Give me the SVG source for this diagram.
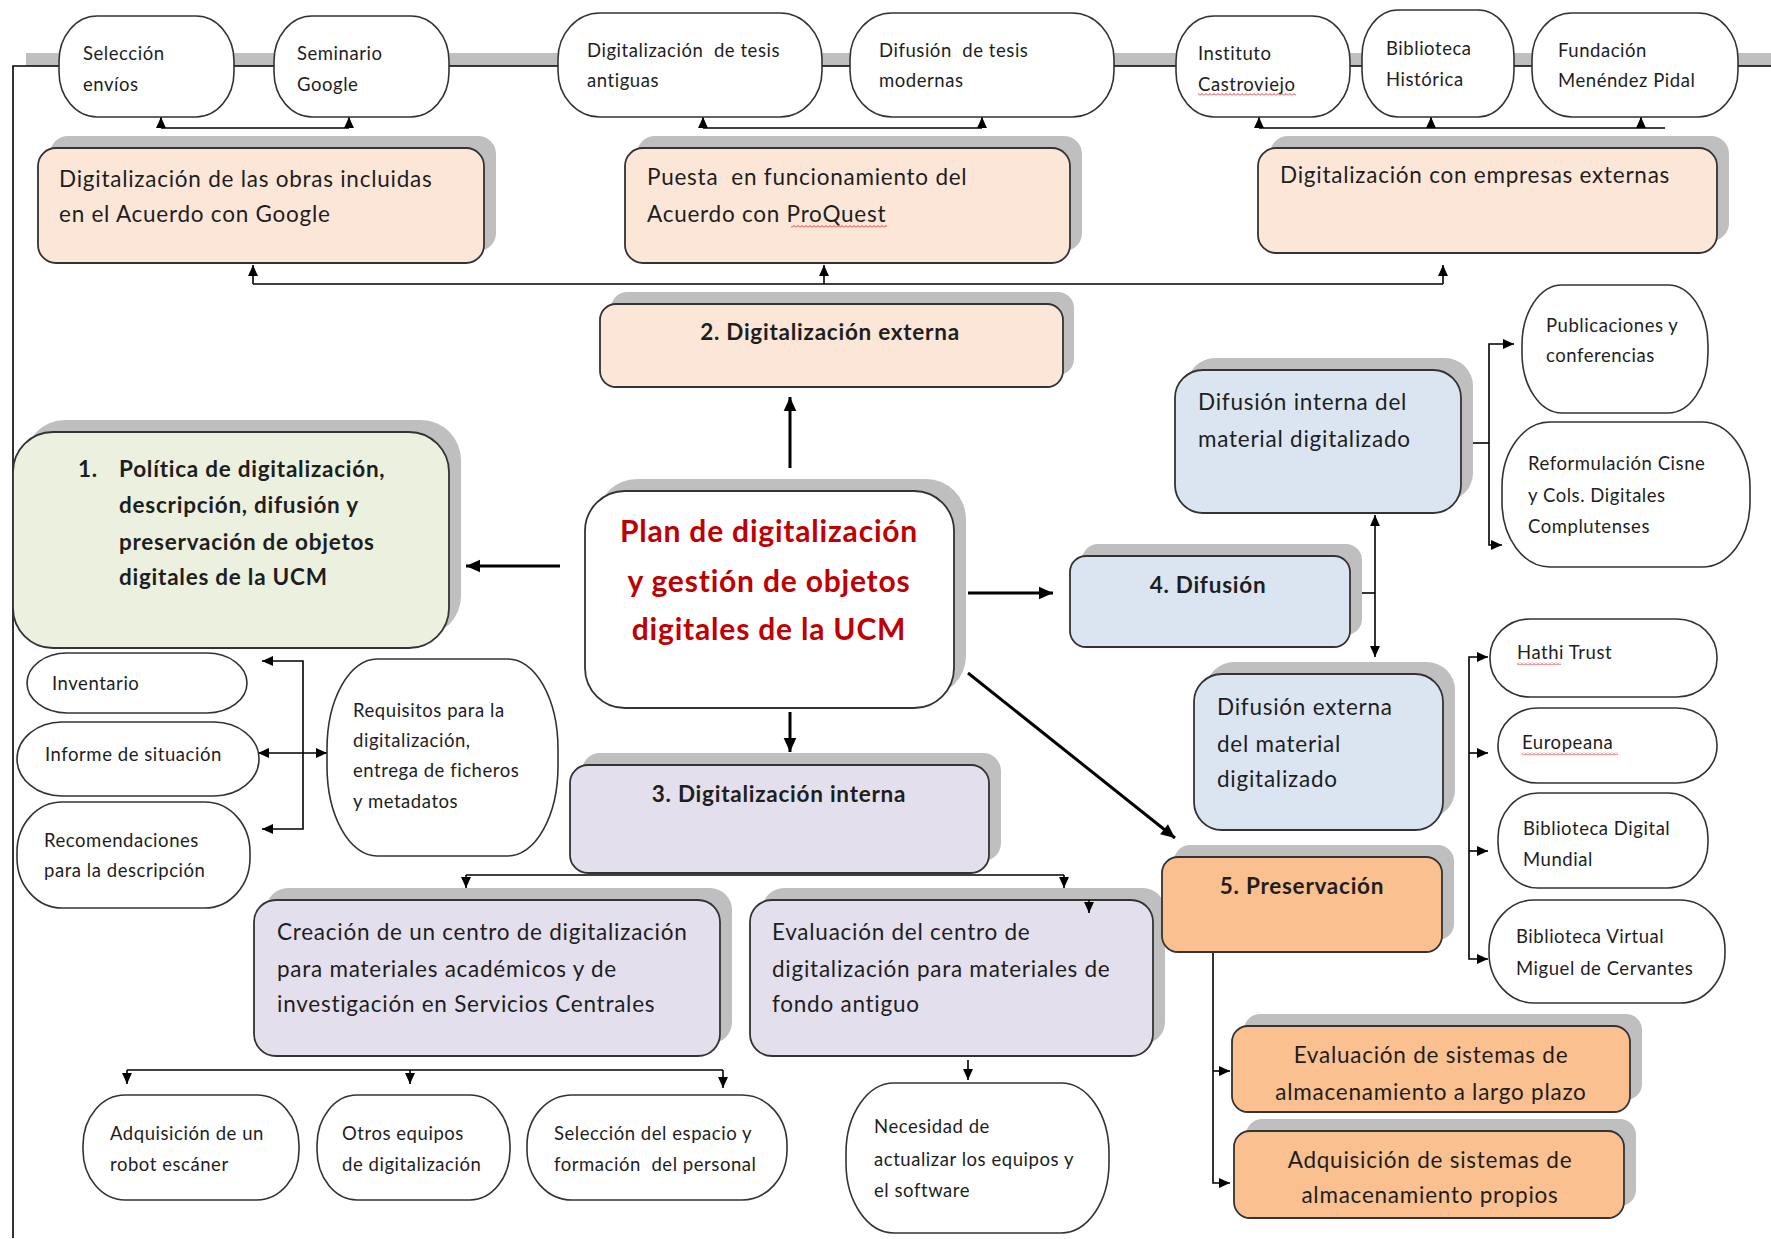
<svg xmlns="http://www.w3.org/2000/svg" width="1771" height="1239" viewBox="0 0 1771 1239">
<style>
.bg{fill:#ffffff}
.pill{fill:#ffffff;stroke:#333333;stroke-width:1.6}
.sh{fill:#BFBFBF}
.box{stroke:#333333;stroke-width:1.8}
.peach{fill:#FCE6D8}
.green{fill:#EBF1DE}
.lav{fill:#E4DFEC}
.blue{fill:#DBE5F1}
.orange{fill:#FAC090}
.t{font-family:Lato,"Open Sans",sans-serif;fill:#1e1e1e}
.s{font-size:18.5px;letter-spacing:0.55px}
.m{font-size:22.5px;letter-spacing:0.75px}
.b{font-weight:bold}
.red{fill:#C00000;font-size:30px;font-weight:bold;letter-spacing:0.8px}
.c{stroke:#000;stroke-width:1.6;fill:none}
.cw{stroke:#000;stroke-width:3;fill:none}
</style>
<defs>
<marker id="a" viewBox="0 0 10 10" refX="10" refY="5" markerWidth="11" markerHeight="11" markerUnits="userSpaceOnUse" orient="auto-start-reverse"><path d="M0,0.5 L10,5 L0,9.5 z" fill="#000"/></marker>
<marker id="A" viewBox="0 0 10 10" refX="10" refY="5" markerWidth="15" markerHeight="14" markerUnits="userSpaceOnUse" orient="auto-start-reverse"><path d="M0,0.5 L10,5 L0,9.5 z" fill="#000"/></marker>
<pattern id="wave" x="0" y="0" width="4" height="3" patternUnits="userSpaceOnUse"><path d="M0,2.5 L2,0.5 L4,2.5" stroke="#E02020" fill="none" stroke-width="0.9"/></pattern>
<clipPath id="clipEval"><rect x="1232" y="1026" width="398" height="86" rx="16"/></clipPath>
</defs>
<rect class="bg" x="0" y="0" width="1771" height="1239"/>

<g id="connectors">
  <rect class="sh" x="26" y="53" width="1745" height="13"/>
  <path class="c" d="M13,1238 V66 H1771"/>
  <path class="c" d="M161,128 H349"/>
  <path class="c" d="M161,128 V117" marker-end="url(#a)"/>
  <path class="c" d="M349,128 V117" marker-end="url(#a)"/>
  <path class="c" d="M703,128 H982"/>
  <path class="c" d="M703,128 V117" marker-end="url(#a)"/>
  <path class="c" d="M982,128 V117" marker-end="url(#a)"/>
  <path class="c" d="M1259,128 H1665"/>
  <path class="c" d="M1259,128 V117" marker-end="url(#a)"/>
  <path class="c" d="M1431,128 V117" marker-end="url(#a)"/>
  <path class="c" d="M1641,128 V117" marker-end="url(#a)"/>
  <path class="c" d="M253,284 H1443"/>
  <path class="c" d="M253,284 V265" marker-end="url(#a)"/>
  <path class="c" d="M824,284 V265" marker-end="url(#a)"/>
  <path class="c" d="M1443,284 V265" marker-end="url(#a)"/>
  <path class="cw" d="M790,468 V397" marker-end="url(#A)"/>
  <path class="cw" d="M560,566 H466" marker-end="url(#A)"/>
  <path class="cw" d="M968,593 H1053" marker-end="url(#A)"/>
  <path class="cw" d="M790,712 V752" marker-end="url(#A)"/>
  <path class="cw" d="M968,673 L1175,838" marker-end="url(#A)"/>
  <path class="c" d="M1362,593 H1375"/>
  <path class="c" d="M1375,515 V657" marker-start="url(#a)" marker-end="url(#a)"/>
  <path class="c" d="M1471,443 H1489"/>
  <path class="c" d="M1514,344 H1489 V545 H1502" marker-start="url(#a)" marker-end="url(#a)"/>
  <path class="c" d="M1488,657 H1469 V959 H1488" marker-start="url(#a)" marker-end="url(#a)"/>
  <path class="c" d="M1469,753 H1488" marker-end="url(#a)"/>
  <path class="c" d="M1469,851 H1488" marker-end="url(#a)"/>
  <path class="c" d="M262,661 H303 V829 H262" marker-start="url(#a)" marker-end="url(#a)"/>
  <path class="c" d="M258,753 H327" marker-start="url(#a)" marker-end="url(#a)"/>
  <path class="c" d="M466,875 H1064"/>
  <path class="c" d="M466,875 V888" marker-end="url(#a)"/>
  <path class="c" d="M1064,875 V888" marker-end="url(#a)"/>
  <path class="c" d="M127,1070 H723"/>
  <path class="c" d="M127,1070 V1084" marker-end="url(#a)"/>
  <path class="c" d="M410,1070 V1084" marker-end="url(#a)"/>
  <path class="c" d="M723,1070 V1088" marker-end="url(#a)"/>
  <path class="c" d="M968,1060 V1080" marker-end="url(#a)"/>
  <path class="c" d="M1213,952 V1183 H1230" marker-end="url(#a)"/>
  <path class="c" d="M1213,1071 H1230" marker-end="url(#a)"/>
</g>

<g id="n-seleccion"><rect class="pill" x="59" y="16" width="175" height="101" rx="38" ry="45"/><text class="t s" x="83" y="60">Selección</text><text class="t s" x="83" y="91">envíos</text></g>
<g id="n-seminario"><rect class="pill" x="274" y="16" width="175" height="101" rx="38" ry="45"/><text class="t s" x="297" y="60">Seminario</text><text class="t s" x="297" y="91">Google</text></g>
<g id="n-tesis-antiguas"><rect class="pill" x="558" y="13" width="264" height="104" rx="42" ry="46"/><text class="t s" x="587" y="57" xml:space="preserve">Digitalización  de tesis</text><text class="t s" x="587" y="87">antiguas</text></g>
<g id="n-tesis-modernas"><rect class="pill" x="850" y="13" width="264" height="104" rx="42" ry="46"/><text class="t s" x="879" y="57" xml:space="preserve">Difusión  de tesis</text><text class="t s" x="879" y="87">modernas</text></g>
<g id="n-castroviejo"><rect class="pill" x="1176" y="16" width="174" height="101" rx="38" ry="45"/><text class="t s" x="1198" y="60">Instituto</text><text class="t s" x="1198" y="91">Castroviejo</text><rect x="1198" y="93" width="98" height="3" fill="url(#wave)"/></g>
<g id="n-historica"><rect class="pill" x="1362" y="10" width="152" height="107" rx="36" ry="46"/><text class="t s" x="1386" y="55">Biblioteca</text><text class="t s" x="1386" y="86">Histórica</text></g>
<g id="n-pidal"><rect class="pill" x="1532" y="13" width="206" height="104" rx="40" ry="46"/><text class="t s" x="1558" y="57">Fundación</text><text class="t s" x="1558" y="87">Menéndez Pidal</text></g>

<g id="n-google"><rect class="sh" x="50" y="136" width="446" height="115" rx="18"/><rect class="box peach" x="38" y="148" width="446" height="115" rx="18"/><text class="t m" x="59" y="187">Digitalización de las obras incluidas</text><text class="t m" x="59" y="222">en el Acuerdo con Google</text></g>
<g id="n-proquest"><rect class="sh" x="637" y="136" width="445" height="115" rx="18"/><rect class="box peach" x="625" y="148" width="445" height="115" rx="18"/><text class="t m" x="647" y="185" xml:space="preserve">Puesta  en funcionamiento del</text><text class="t m" x="647" y="222">Acuerdo con <tspan id="pq">ProQuest</tspan></text><rect x="791" y="225" width="96" height="3" fill="url(#wave)"/></g>
<g id="n-empresas"><rect class="sh" x="1270" y="136" width="459" height="105" rx="18"/><rect class="box peach" x="1258" y="148" width="459" height="105" rx="18"/><text class="t m" x="1280" y="183">Digitalización con empresas externas</text></g>

<g id="n-externa"><rect class="sh" x="611" y="292" width="463" height="83" rx="16"/><rect class="box peach" x="600" y="304" width="463" height="83" rx="16"/><text class="t m b" x="830" y="340" text-anchor="middle">2. Digitalización externa</text></g>

<g id="n-politica"><rect class="sh" x="25" y="420" width="436" height="216" rx="40"/><rect class="box green" x="13" y="432" width="436" height="216" rx="40"/><text class="t m b" x="78" y="477">1.</text><text class="t m b" x="119" y="477">Política de digitalización,</text><text class="t m b" x="119" y="513">descripción, difusión y</text><text class="t m b" x="119" y="550">preservación de objetos</text><text class="t m b" x="119" y="585">digitales de la UCM</text></g>

<g id="n-plan"><rect class="sh" x="597" y="479" width="369" height="217" rx="40"/><rect class="box" fill="#ffffff" x="585" y="491" width="369" height="217" rx="40"/><text class="t red" x="769" y="542" text-anchor="middle">Plan de digitalización</text><text class="t red" x="769" y="592" text-anchor="middle">y gestión de objetos</text><text class="t red" x="769" y="640" text-anchor="middle">digitales de la UCM</text></g>

<g id="n-inventario"><rect class="pill" x="27" y="653" width="220" height="60" rx="40" ry="30"/><text class="t s" x="52" y="690">Inventario</text></g>
<g id="n-informe"><rect class="pill" x="17" y="722" width="242" height="74" rx="45" ry="37"/><text class="t s" x="45" y="761">Informe de situación</text></g>
<g id="n-recomendaciones"><rect class="pill" x="17" y="802" width="233" height="106" rx="45" ry="50"/><text class="t s" x="44" y="847">Recomendaciones</text><text class="t s" x="44" y="877">para la descripción</text></g>
<g id="n-requisitos"><rect class="pill" x="327" y="659" width="231" height="197" rx="50" ry="90"/><text class="t s" x="353" y="717">Requisitos para la</text><text class="t s" x="353" y="747">digitalización,</text><text class="t s" x="353" y="777">entrega de ficheros</text><text class="t s" x="353" y="808">y metadatos</text></g>

<g id="n-interna"><rect class="sh" x="582" y="753" width="419" height="108" rx="18"/><rect class="box lav" x="570" y="765" width="419" height="108" rx="18"/><text class="t m b" x="779" y="802" text-anchor="middle">3. Digitalización interna</text></g>

<g id="n-creacion"><rect class="sh" x="266" y="888" width="466" height="156" rx="22"/><rect class="box lav" x="254" y="900" width="466" height="156" rx="22"/><text class="t m" x="277" y="940">Creación de un centro de digitalización</text><text class="t m" x="277" y="977">para materiales académicos y de</text><text class="t m" x="277" y="1012">investigación en Servicios Centrales</text></g>
<g id="n-evaluacion-centro"><rect class="sh" x="762" y="888" width="403" height="156" rx="22"/><rect class="box lav" x="750" y="900" width="403" height="156" rx="22"/><text class="t m" x="772" y="940">Evaluación del centro de</text><text class="t m" x="772" y="977">digitalización para materiales de</text><text class="t m" x="772" y="1012">fondo antiguo</text><path class="c" d="M1089,900 V913" marker-end="url(#a)"/></g>

<g id="n-robot"><rect class="pill" x="83" y="1095" width="216" height="105" rx="42" ry="50"/><text class="t s" x="110" y="1140">Adquisición de un</text><text class="t s" x="110" y="1171">robot escáner</text></g>
<g id="n-otros"><rect class="pill" x="317" y="1095" width="193" height="105" rx="40" ry="50"/><text class="t s" x="342" y="1140">Otros equipos</text><text class="t s" x="342" y="1171">de digitalización</text></g>
<g id="n-espacio"><rect class="pill" x="527" y="1095" width="260" height="105" rx="45" ry="50"/><text class="t s" x="554" y="1140">Selección del espacio y</text><text class="t s" x="554" y="1171" xml:space="preserve">formación  del personal</text></g>
<g id="n-necesidad"><rect class="pill" x="846" y="1083" width="263" height="150" rx="48" ry="70"/><text class="t s" x="874" y="1133">Necesidad de</text><text class="t s" x="874" y="1166">actualizar los equipos y</text><text class="t s" x="874" y="1197">el software</text></g>

<g id="n-difusion"><rect class="sh" x="1082" y="544" width="280" height="91" rx="16"/><rect class="box blue" x="1070" y="556" width="280" height="91" rx="16"/><text class="t m b" x="1208" y="593" text-anchor="middle">4. Difusión</text></g>
<g id="n-dif-interna"><rect class="sh" x="1187" y="358" width="286" height="143" rx="28"/><rect class="box blue" x="1175" y="370" width="286" height="143" rx="28"/><text class="t m" x="1198" y="410">Difusión interna del</text><text class="t m" x="1198" y="447">material digitalizado</text></g>
<g id="n-dif-externa"><rect class="sh" x="1206" y="662" width="249" height="156" rx="28"/><rect class="box blue" x="1194" y="674" width="249" height="156" rx="28"/><text class="t m" x="1217" y="715">Difusión externa</text><text class="t m" x="1217" y="752">del material</text><text class="t m" x="1217" y="787">digitalizado</text></g>

<g id="n-publicaciones"><rect class="pill" x="1522" y="285" width="186" height="128" rx="40" ry="60"/><text class="t s" x="1546" y="332">Publicaciones y</text><text class="t s" x="1546" y="362">conferencias</text></g>
<g id="n-cisne"><rect class="pill" x="1502" y="422" width="248" height="145" rx="48" ry="65"/><text class="t s" x="1528" y="470">Reformulación Cisne</text><text class="t s" x="1528" y="502">y Cols. Digitales</text><text class="t s" x="1528" y="533">Complutenses</text></g>
<g id="n-hathi"><rect class="pill" x="1490" y="619" width="227" height="78" rx="40" ry="38"/><text class="t s" x="1517" y="659">Hathi Trust</text><rect x="1517" y="662" width="44" height="3" fill="url(#wave)"/></g>
<g id="n-europeana"><rect class="pill" x="1498" y="708" width="219" height="75" rx="40" ry="37"/><text class="t s" x="1522" y="749">Europeana</text><rect x="1522" y="752" width="96" height="3" fill="url(#wave)"/></g>
<g id="n-bdm"><rect class="pill" x="1498" y="793" width="210" height="95" rx="40" ry="45"/><text class="t s" x="1523" y="835">Biblioteca Digital</text><text class="t s" x="1523" y="866">Mundial</text></g>
<g id="n-cervantes"><rect class="pill" x="1489" y="900" width="236" height="103" rx="45" ry="50"/><text class="t s" x="1516" y="943">Biblioteca Virtual</text><text class="t s" x="1516" y="975">Miguel de Cervantes</text></g>

<g id="n-preservacion"><rect class="sh" x="1174" y="845" width="280" height="95" rx="16"/><rect class="box orange" x="1162" y="857" width="280" height="95" rx="16"/><text class="t m b" x="1302" y="894" text-anchor="middle">5. Preservación</text></g>
<g id="n-eval-sistemas"><rect class="sh" x="1244" y="1014" width="398" height="86" rx="16"/><rect class="box orange" x="1232" y="1026" width="398" height="86" rx="16"/><g clip-path="url(#clipEval)"><text class="t m" x="1431" y="1063" text-anchor="middle">Evaluación de sistemas de</text><text class="t m" x="1431" y="1100" text-anchor="middle">almacenamiento a largo plazo</text></g></g>
<g id="n-adq-sistemas"><rect class="sh" x="1246" y="1119" width="390" height="87" rx="16"/><rect class="box orange" x="1234" y="1131" width="390" height="87" rx="16"/><text class="t m" x="1430" y="1168" text-anchor="middle">Adquisición de sistemas de</text><text class="t m" x="1430" y="1203" text-anchor="middle">almacenamiento propios</text></g>
</svg>
